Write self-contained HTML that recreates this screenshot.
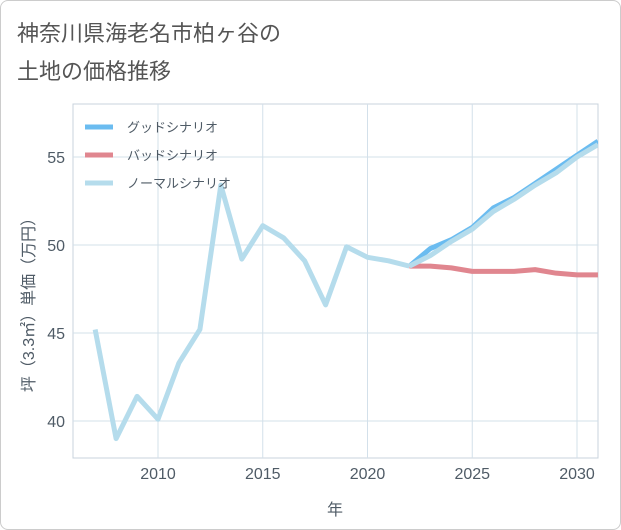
<!DOCTYPE html>
<html><head><meta charset="utf-8"><style>
body{margin:0;background:#fff;}
#wrap{position:relative;width:619px;height:528px;border:1px solid #ccc;border-radius:8px;overflow:hidden;background:#fff;font-family:"Liberation Sans","Noto Sans CJK JP",sans-serif;}
#title{position:absolute;left:16px;top:14px;font-size:22px;line-height:38px;color:#555;}
svg{position:absolute;left:0;top:0;}
</style></head><body>
<div id="wrap">
<div id="title">神奈川県海老名市柏ヶ谷の<br>土地の価格推移</div>
<svg id="chart" width="621" height="530"></svg>
</div>
<script>
const histYears=[2007,2008,2009,2010,2011,2012,2013,2014,2015,2016,2017,2018,2019,2020,2021,2022];
const histValues=[45.2,39.0,41.4,40.1,43.3,45.2,53.4,49.2,51.1,50.4,49.1,46.6,49.9,49.3,49.1,48.8];
const futYears=[2022,2023,2024,2025,2026,2027,2028,2029,2030,2031];
const goodValues=[48.8,49.8,50.3,51.0,52.1,52.7,53.5,54.3,55.1,55.9];
const badValues=[48.8,48.8,48.7,48.5,48.5,48.5,48.6,48.4,48.3,48.3];
const normalValues=[48.8,49.4,50.2,50.9,51.9,52.6,53.4,54.1,55.0,55.7];
const xTicks=[2010,2015,2020,2025,2030];
const yTicks=[40,45,50,55];
const legendLabels=["グッドシナリオ","バッドシナリオ","ノーマルシナリオ"];
const colors=["#6bbcf0","#e0868f","#b5dcec"];
const L=72,R=597,T=103,B=457;
const x=v=>157+(v-2010)*(576-157)/20;
const y=v=>420-(v-40)*(420-156)/15;
const svg=document.getElementById('chart');const NS="http://www.w3.org/2000/svg";
function mk(t,a,p){const e=document.createElementNS(NS,t);for(const k in a)e.setAttribute(k,a[k]);(p||svg).appendChild(e);return e;}
const frame=mk('rect',{x:L,y:T,width:R-L,height:B-T,fill:'none',stroke:'#c8d3dc'});


xTicks.forEach(t=>{const g=mk('line',{x1:x(t),x2:x(t),y1:T,y2:B,stroke:'#d3e0ea'});


const tx=mk('text',{x:x(t),y:478,'text-anchor':'middle','font-size':16,fill:'#4f5b66'});tx.textContent=t;

});
yTicks.forEach(t=>{const g=mk('line',{x1:L,x2:R,y1:y(t),y2:y(t),stroke:'#d3e0ea'});


const tx=mk('text',{x:L-8,y:y(t)+6,'text-anchor':'end','font-size':16,fill:'#4f5b66'});tx.textContent=t;

});
const xt=mk('text',{x:334,y:514,'text-anchor':'middle','font-size':16,fill:'#4f5b66'});xt.textContent='年';


const yt=mk('text',{x:0,y:0,'text-anchor':'middle','font-size':16,fill:'#4f5b66',transform:'translate(33,300) rotate(-90)'});yt.textContent='坪（3.3㎡）単価（万円）';


const clip=mk('clipPath',{id:'c'});mk('rect',{x:L,y:T,width:R-L,height:B-T},clip);
function line(xs,vs,c,name){const p=mk('polyline',{points:xs.map((v,i)=>x(v)+','+y(vs[i])).join(' '),fill:'none',stroke:c,'stroke-width':5,'stroke-linejoin':'round','clip-path':'url(#c)'});

}
line(futYears,badValues,colors[1],'bad-scenario-line');
line(futYears,goodValues,colors[0],'good-scenario-line');
line(futYears,normalValues,colors[2],'normal-scenario-line');
line(histYears,histValues,colors[2],'historical-line');
legendLabels.forEach((l,i)=>{const yy=126+i*28;
mk('line',{x1:84,x2:112,y1:yy,y2:yy,stroke:colors[i],'stroke-width':5});
const tx=mk('text',{x:126,y:yy+5,'font-size':13,fill:'#4f5b66'});tx.textContent=l;

});
</script>
</body></html>
